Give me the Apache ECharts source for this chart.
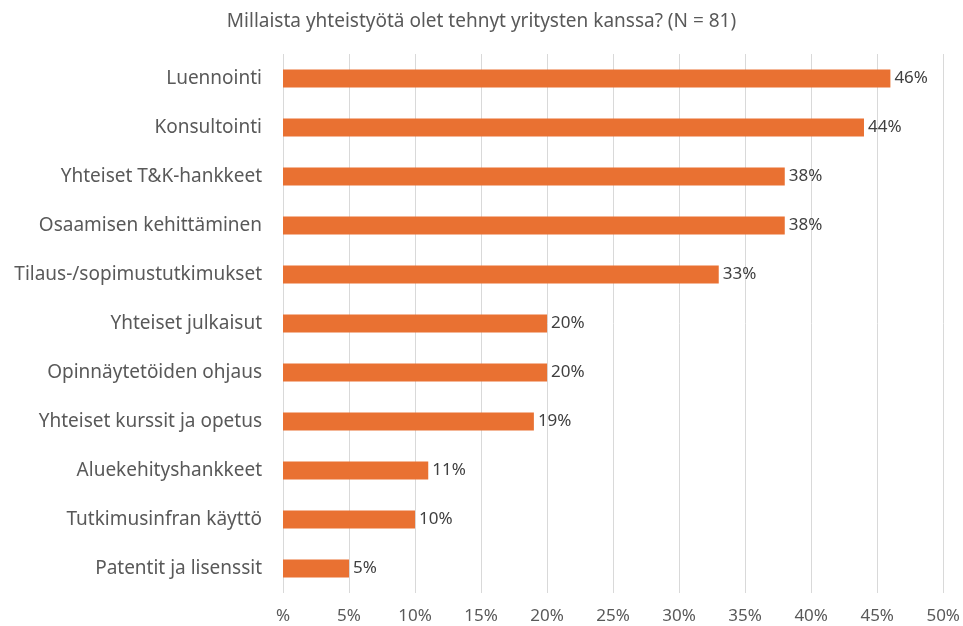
<!DOCTYPE html>
<html>
<head>
<meta charset="utf-8">
<script src="https://cdn.jsdelivr.net/npm/echarts@6/dist/echarts.min.js"></script>
<style>
  html, body { margin: 0; padding: 0; background: #fff; }
  #chart { width: 963px; height: 626px; }
</style>
</head>
<body>
<div id="chart"></div>
<script>
// data
const categories = [
  'Luennointi',
  'Konsultointi',
  'Yhteiset T&K-hankkeet',
  'Osaamisen kehittäminen',
  'Tilaus-/sopimustutkimukset',
  'Yhteiset julkaisut',
  'Opinnäytetöiden ohjaus',
  'Yhteiset kurssit ja opetus',
  'Aluekehityshankkeet',
  'Tutkimusinfran käyttö',
  'Patentit ja lisenssit'
];
const values = [46, 44, 38, 38, 33, 20, 20, 19, 11, 10, 5];
const tickLabels = ['%', '5%', '10%', '15%', '20%', '25%', '30%', '35%', '40%', '45%', '50%'];

const chart = echarts.init(document.getElementById('chart'));

const option = {
  backgroundColor: '#ffffff',
  title: {
    text: 'Millaista yhteistyötä olet tehnyt yritysten kanssa? (N = 81)',
    left: 'center',
    top: 7,
    textStyle: {
      fontFamily: 'Noto Sans',
      fontSize: 19,
      fontWeight: 'normal',
      color: '#595959'
    }
  },
  grid: {
    left: 283,
    right: 19,
    top: 54,
    bottom: 33
  },
  xAxis: {
    type: 'value',
    min: 0,
    max: 50,
    interval: 5,
    axisLine: { show: false },
    axisTick: { show: false },
    splitLine: { lineStyle: { color: '#d9d9d9', width: 1 } },
    axisLabel: {
      fontFamily: 'Noto Sans',
      fontSize: 17,
      color: '#595959',
      margin: 15,
      formatter: function (v) { return tickLabels[Math.round(v / 5)]; }
    }
  },
  yAxis: {
    type: 'category',
    data: categories,
    inverse: true,
    axisLine: { show: false },
    axisTick: { show: false },
    axisLabel: {
      fontFamily: 'Noto Sans',
      fontSize: 19,
      color: '#595959',
      margin: 21
    }
  },
  series: [{
    type: 'bar',
    data: values,
    barWidth: 18,
    itemStyle: { color: '#E97132' },
    label: {
      show: true,
      position: 'right',
      distance: 4,
      fontFamily: 'Noto Sans',
      fontSize: 17,
      color: '#404040',
      formatter: '{c}%'
    }
  }]
};

chart.setOption(option);
</script>
</body>
</html>
